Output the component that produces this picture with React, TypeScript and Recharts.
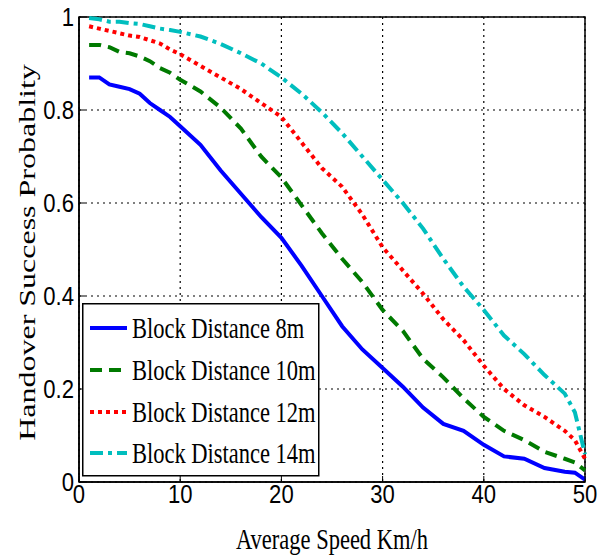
import React from "react";
import {
  LineChart,
  Line,
  XAxis,
  YAxis,
  CartesianGrid,
  ReferenceArea,
  Legend,
} from "recharts";

const speeds = [1, 2, 3, 4, 5, 6, 7, 8, 9, 10, 12, 14, 16, 18, 20, 22, 24, 26, 28, 30, 32, 34, 36, 38, 40, 42, 44, 46, 48, 49, 50];
const dist8 = [0.87, 0.87, 0.855, 0.85, 0.845, 0.835, 0.815, 0.8, 0.785, 0.765, 0.725, 0.67, 0.62, 0.57, 0.525, 0.465, 0.4, 0.335, 0.285, 0.245, 0.205, 0.16, 0.125, 0.11, 0.08, 0.055, 0.05, 0.03, 0.022, 0.02, 0.005];
const dist10 = [0.94, 0.94, 0.935, 0.925, 0.922, 0.915, 0.905, 0.89, 0.88, 0.865, 0.84, 0.805, 0.76, 0.7, 0.655, 0.595, 0.535, 0.48, 0.43, 0.37, 0.325, 0.265, 0.225, 0.18, 0.14, 0.11, 0.09, 0.065, 0.05, 0.042, 0.025];
const dist12 = [0.98, 0.975, 0.97, 0.965, 0.96, 0.957, 0.95, 0.943, 0.93, 0.92, 0.895, 0.87, 0.845, 0.815, 0.785, 0.73, 0.675, 0.635, 0.575, 0.505, 0.455, 0.405, 0.35, 0.305, 0.25, 0.2, 0.165, 0.14, 0.11, 0.09, 0.05];
const dist14 = [0.998, 0.995, 0.99, 0.99, 0.987, 0.985, 0.98, 0.975, 0.972, 0.968, 0.958, 0.942, 0.922, 0.9, 0.87, 0.835, 0.795, 0.75, 0.7, 0.65, 0.6, 0.545, 0.48, 0.42, 0.37, 0.315, 0.275, 0.23, 0.19, 0.15, 0.06];

const seriesNames = ["Block Distance 8m", "Block Distance 10m", "Block Distance 12m", "Block Distance 14m"];
const seriesKeys = ["d8", "d10", "d12", "d14"];
const xTicks = [0, 10, 20, 30, 40, 50];
const yTicks = [0, 0.2, 0.4, 0.6, 0.8, 1];
const xTitle = "Average Speed Km/h";
const yTitle = "Handover Success Probablity";

const data = speeds.map((s, i) => ({
  speed: s,
  d8: dist8[i],
  d10: dist10[i],
  d12: dist12[i],
  d14: dist14[i],
}));

const styles: Record<string, { color: string; dash?: string }> = {
  d8: { color: "#0000FF" },
  d10: { color: "#007A00", dash: "12 7" },
  d12: { color: "#FF0000", dash: "4 4" },
  d14: { color: "#00BEBE", dash: "13 5 4 5" },
};

const SERIF = "'Liberation Serif', 'Times New Roman', serif";
const SANS = "'Liberation Sans', Arial, sans-serif";

const XTick = (props: any) => {
  const { x, y, payload } = props;
  return (
    <g transform={`translate(${x},${y}) scale(0.85,1)`}>
      <text x={0} y={0} dy="0.71em" textAnchor="middle" fontSize={26} fontFamily={SANS} fill="#000">
        {String(payload.value)}
      </text>
    </g>
  );
};

const YTick = (props: any) => {
  const { x, y, payload } = props;
  return (
    <g transform={`translate(${x},${y}) scale(0.85,1)`}>
      <text x={0} y={0} dy="0.355em" textAnchor="end" fontSize={26} fontFamily={SANS} fill="#000">
        {String(payload.value)}
      </text>
    </g>
  );
};

const LegendBox = (props: any) => {
  const payload = [...(props.payload || [])].sort(
    (a: any, b: any) => seriesKeys.indexOf(a.dataKey) - seriesKeys.indexOf(b.dataKey)
  );
  const rowY = [25, 67, 109, 150];
  return (
    <svg width={238} height={174} style={{ display: "block" }}>
      <rect x={0.75} y={0.75} width={236} height={172} fill="#fff" stroke="#000" strokeWidth={1.5} />
      {payload.map((entry: any, i: number) => {
        const st = styles[entry.dataKey] || { color: entry.color };
        return (
          <g key={i}>
            <line x1={8} x2={45} y1={rowY[i]} y2={rowY[i]} stroke={st.color} strokeWidth={4} strokeDasharray={st.dash} />
            <g transform={`translate(50,${rowY[i] + 10}) scale(0.75,1)`}>
              <text x={0} y={0} fontSize={30} fontFamily={SERIF} fill="#000">
                {entry.value}
              </text>
            </g>
          </g>
        );
      })}
    </svg>
  );
};

export default function App() {
  return (
    <div style={{ position: "fixed", left: 0, top: 0, width: 609, height: 560, background: "#fff" }}>
      <LineChart
        width={609}
        height={560}
        data={data}
        margin={{ top: 17, right: 24, left: 0, bottom: 0 }}
      >
        <CartesianGrid stroke="#000" strokeDasharray="2 4" strokeWidth={1.2} />
        <XAxis
          dataKey="speed"
          type="number"
          domain={[0, 50]}
          ticks={xTicks}
          height={78}
          tick={<XTick />}
          tickSize={-6}
          tickMargin={9}
          tickLine={{ stroke: "#000", strokeWidth: 1 }}
          axisLine={{ stroke: "#000", strokeWidth: 1.5 }}
          label={{
            content: (p: any) => {
              const vb = p.viewBox;
              return (
                <g transform={`translate(${vb.x + vb.width / 2},${vb.y + 67}) scale(0.75,1)`}>
                  <text x={0} y={0} textAnchor="middle" fontSize={30} fontFamily={SERIF} fill="#000">
                    {xTitle}
                  </text>
                </g>
              );
            },
          }}
        />
        <YAxis
          type="number"
          domain={[0, 1]}
          ticks={yTicks}
          width={79}
          tick={<YTick />}
          tickSize={-6}
          tickMargin={11}
          tickLine={{ stroke: "#000", strokeWidth: 1 }}
          axisLine={{ stroke: "#000", strokeWidth: 1.5 }}
          label={{
            content: (p: any) => {
              const vb = p.viewBox;
              return (
                <g transform={`translate(35,${vb.y + vb.height / 2 + 3}) scale(0.75,1) rotate(-90)`}>
                  <text x={0} y={0} textAnchor="middle" fontSize={32} fontFamily={SERIF} fill="#000">
                    {yTitle}
                  </text>
                </g>
              );
            },
          }}
        />
        <ReferenceArea x1={0} x2={50} y1={0} y2={1} fill="none" stroke="#000" strokeWidth={1.5} ifOverflow="visible" />
        <Line type="linear" dataKey="d8" name={seriesNames[0]} stroke={styles.d8.color} strokeWidth={4} dot={false} isAnimationActive={false} />
        <Line type="linear" dataKey="d10" name={seriesNames[1]} stroke={styles.d10.color} strokeWidth={4} strokeDasharray={styles.d10.dash} dot={false} isAnimationActive={false} />
        <Line type="linear" dataKey="d12" name={seriesNames[2]} stroke={styles.d12.color} strokeWidth={4} strokeDasharray={styles.d12.dash} dot={false} isAnimationActive={false} />
        <Line type="linear" dataKey="d14" name={seriesNames[3]} stroke={styles.d14.color} strokeWidth={4} strokeDasharray={styles.d14.dash} dot={false} isAnimationActive={false} />
        <Legend
          layout="vertical"
          align="center"
          verticalAlign="middle"
          itemSorter={null as any}
          content={<LegendBox />}
          wrapperStyle={{ position: "absolute", left: 82, top: 303, width: 238, height: 174 }}
        />
      </LineChart>
    </div>
  );
}
